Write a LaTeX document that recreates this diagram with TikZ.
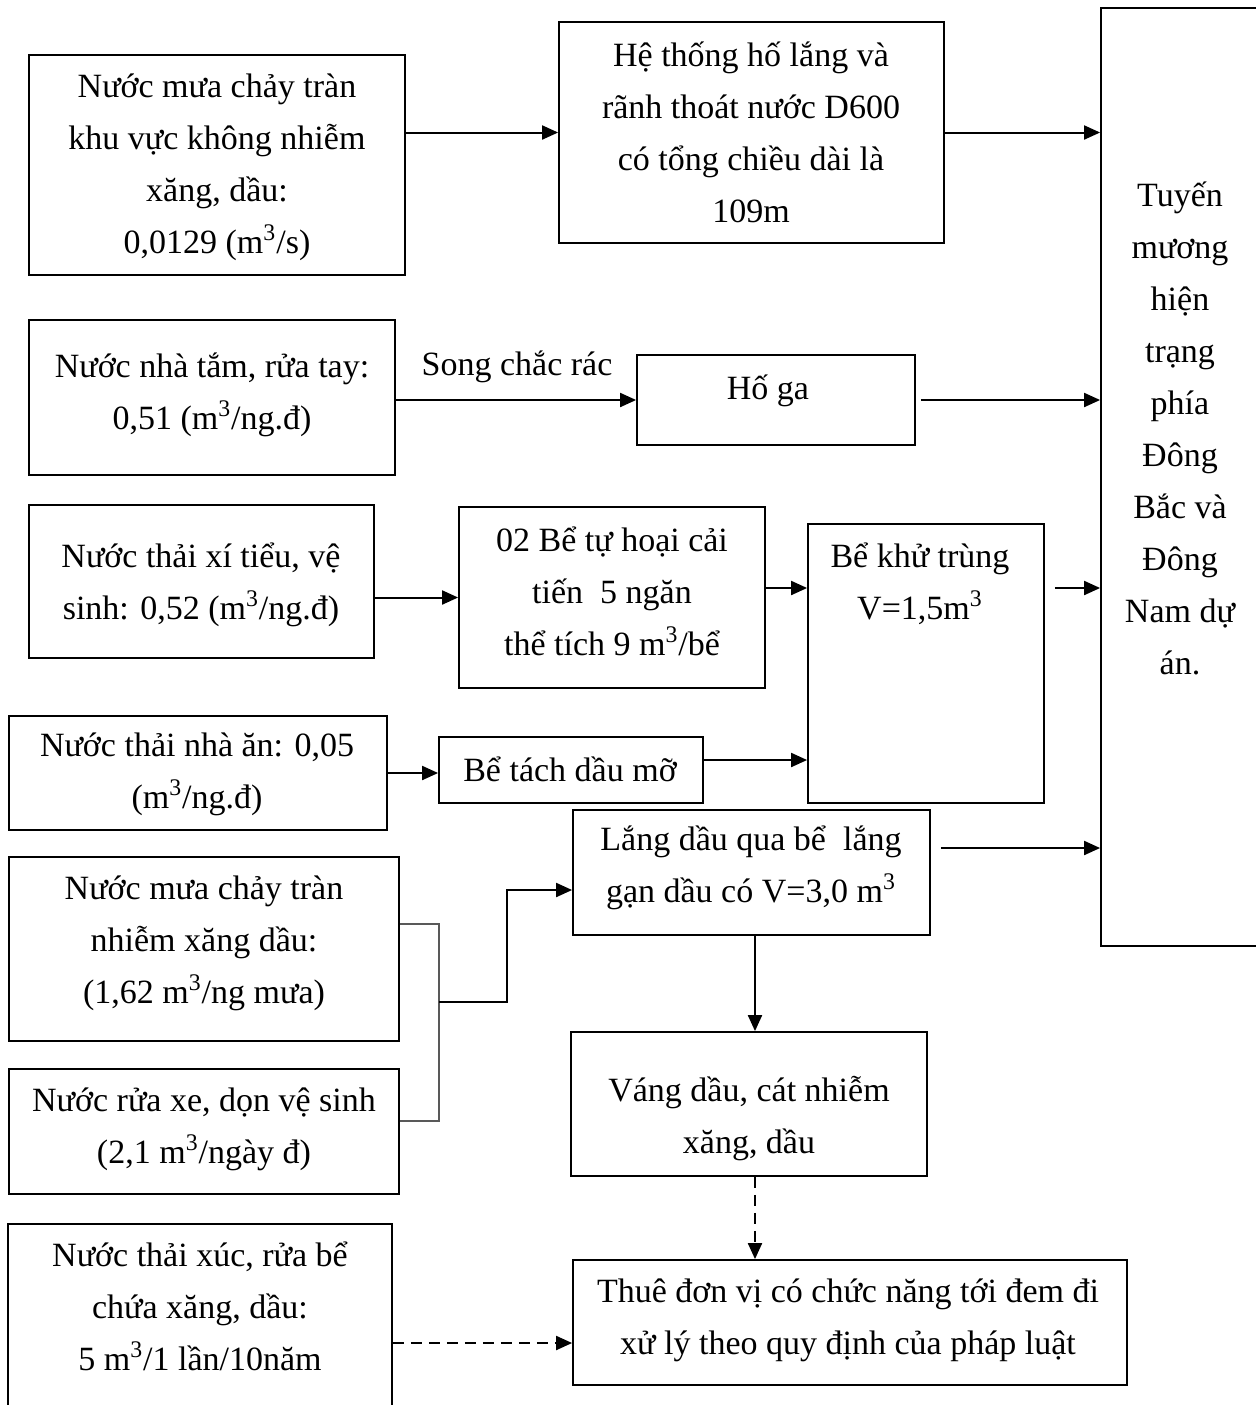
\documentclass[tikz,border=0pt]{standalone}
\usepackage{fontspec}
\setmainfont{Liberation Serif}
\usetikzlibrary{arrows.meta,fit,calc}
\begin{document}
\begin{tikzpicture}[x=0.5pt,y=-0.5pt,
  box/.style={draw,line width=0.9pt,inner sep=0pt},
  txt/.style={font=\fontsize{17}{26}\selectfont,align=center,anchor=base,inner sep=0pt},
  arr/.style={line width=1pt,-{Triangle[length=8pt,width=7pt]}},
  darr/.style={arr,dash pattern=on 5.5pt off 3.5pt},
  thin/.style={line width=0.7pt,draw=black!65}]
\useasboundingbox (0,0) rectangle (1256,1405);
\fill[white] (0,0) rectangle (1256,1405);
% boxes
\node[box,fit={(29,55)(405,275)}] (A) {};
\node[box,fit={(559,22)(944,243)}] (B) {};
\node[box,fit={(1101,8)(1290,946)}] (R) {};
\node[box,fit={(29,320)(395,475)}] (C) {};
\node[box,fit={(637,355)(915,445)}] (G) {};
\node[box,fit={(29,505)(374,658)}] (D) {};
\node[box,fit={(459,507)(765,688)}] (E) {};
\node[box,fit={(808,524)(1044,803)}] (K) {};
\node[box,fit={(9,716)(387,830)}] (F) {};
\node[box,fit={(439,737)(703,803)}] (H) {};
\node[box,fit={(9,857)(399,1041)}] (M) {};
\node[box,fit={(9,1069)(399,1194)}] (N) {};
\node[box,fit={(573,810)(930,935)}] (L) {};
\node[box,fit={(571,1032)(927,1176)}] (V) {};
\node[box,fit={(573,1260)(1127,1385)}] (T) {};
\node[box,fit={(8,1224)(392,1440)}] (X) {};
% texts (anchored at the baseline of their last line)
\node[txt] (At) at (217,253) {Nước mưa chảy tràn\\khu vực không nhiễm\\xăng, dầu:\\0,0129 (m\textsuperscript{3}/s)};
\node[txt] (Bt) at (751,222) {Hệ thống hố lắng và\\rãnh thoát nước D600\\có tổng chiều dài là\\109m};
\node[txt] (Rt) at (1180,674) {Tuyến\\mương\\hiện\\trạng\\phía\\Đông\\Bắc và\\Đông\\Nam dự\\án.};
\node[txt] (Ct) at (212,429) {Nước nhà tắm, rửa tay:\\0,51 (m\textsuperscript{3}/ng.đ)};
\node[txt] (St) at (517,375) {Song chắc rác};
\node[txt] (Gt) at (768,399) {Hố ga};
\node[txt] (Dt) at (201,619) {Nước thải xí tiểu, vệ\\sinh: 0,52 (m\textsuperscript{3}/ng.đ)};
\node[txt] (Et) at (612,655) {02 Bể tự hoại cải\\tiến\ \ 5 ngăn\\thể tích 9 m\textsuperscript{3}/bể};
\node[txt] (Kt) at (920,619) {Bể khử trùng\\V=1,5m\textsuperscript{3}};
\node[txt] (Ft) at (197,808) {Nước thải nhà ăn: 0,05\\(m\textsuperscript{3}/ng.đ)};
\node[txt] (Ht) at (570,781) {Bể tách dầu mỡ};
\node[txt] (Mt) at (204,1003) {Nước mưa chảy tràn\\nhiễm xăng dầu:\\(1,62 m\textsuperscript{3}/ng mưa)};
\node[txt] (Nt) at (204,1163) {Nước rửa xe, dọn vệ sinh\\(2,1 m\textsuperscript{3}/ngày đ)};
\node[txt] (Lt) at (751,902) {Lắng dầu qua bể\ \ lắng\\gạn dầu có V=3,0 m\textsuperscript{3}};
\node[txt] (Vt) at (749,1153) {Váng dầu, cát nhiễm\\xăng, dầu};
\node[txt] (Tt) at (848,1354) {Thuê đơn vị có chức năng tới đem đi\\xử lý theo quy định của pháp luật};
\node[txt] (Xt) at (200,1370) {Nước thải xúc, rửa bể\\chứa xăng, dầu:\\5 m\textsuperscript{3}/1 lần/10năm};
% helper coordinates
\coordinate (y588) at (0,588);
\coordinate (y760) at (0,760);
\coordinate (y848) at (0,848);
\coordinate (y890) at (0,890);
\coordinate (y1343) at (0,1343);
\coordinate (bt) at (439,924);
\coordinate (bb) at (439,1121);
\coordinate (bm) at (439,1002);
\coordinate (bk) at (507,1002);
% connectors
\draw[arr] (A.east |- B.west) -- (B.west);
\draw[arr] (B.east) -- (B.east -| R.west);
\draw[arr] (C.east |- G.west) -- (G.west);
\draw[arr,shorten <=2.5pt] (G.east) -- (G.east -| R.west);
\draw[arr] (D.east |- E.west) -- (E.west);
\draw[arr] (E.east |- y588) -- (K.west |- y588);
\draw[arr,shorten <=5pt] (K.east |- y588) -- (R.west |- y588);
\draw[arr] (F.east) -- (F.east -| H.west);
\draw[arr] (H.east |- y760) -- (K.west |- y760);
\draw[thin] (M.east |- bt) -- (bt) -- (bb) -- (N.east |- bb);
\draw[arr] (bm) -- (bk) -- (bk |- y890) -- (L.west |- y890);
\draw[arr,shorten <=5pt] (L.east |- y848) -- (R.west |- y848);
\draw[arr] (L.south -| 755,0) -- (V.north -| 755,0);
\draw[darr] (V.south -| 755,0) -- (T.north -| 755,0);
\draw[darr] (X.east |- y1343) -- (T.west |- y1343);
\end{tikzpicture}
\end{document}
